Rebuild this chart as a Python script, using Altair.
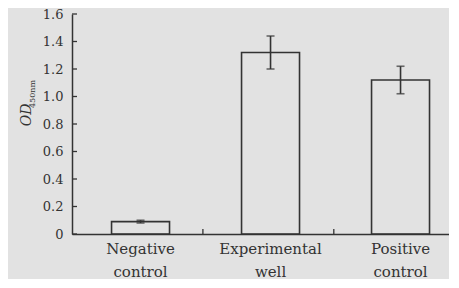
import altair as alt
import pandas as pd

categories = ["Negative|control", "Experimental|well", "Positive|control"]
means = [0.09, 1.32, 1.12]
errors = [0.01, 0.12, 0.10]
y_ticks = [0, 0.2, 0.4, 0.6, 0.8, 1.0, 1.2, 1.4, 1.6]
boundaries = [1, 2]

df = pd.DataFrame({"cat": categories, "mean": means, "err": errors})
df["lo"] = df["mean"] - df["err"]
df["hi"] = df["mean"] + df["err"]

W, H = 377, 220
ink = "#333333"
font = "DejaVu Serif"

xaxis = alt.Axis(title=None, labelAngle=0, labelExpr="split(datum.value, '|')",
                 tickSize=0, labelPadding=7, labelFont=font, labelFontSize=15,
                 labelColor=ink, labelLineHeight=23, domainColor=ink, domainWidth=1.5)
xenc = alt.X("cat:N", sort=categories,
             scale=alt.Scale(paddingInner=0.554, paddingOuter=0.227, align=0.67),
             axis=xaxis)
yscale = alt.Scale(domain=[0, 1.6], nice=False, zero=True)
yaxis = alt.Axis(title=None, values=y_ticks,
                 labelExpr="datum.value == 0 ? '0' : format(datum.value, '.1f')",
                 tickSize=0, labelPadding=9, labelFont=font, labelFontSize=13,
                 labelColor=ink, domainColor=ink, domainWidth=1.5, grid=False,
                 minExtent=59, maxExtent=59)

bars = alt.Chart(df).mark_bar(fill="transparent", stroke=ink, strokeWidth=1.6).encode(
    x=xenc, y=alt.Y("mean:Q", scale=yscale, axis=yaxis)
)
err = alt.Chart(df).mark_rule(color=ink, strokeWidth=1.6).encode(
    x=xenc, y=alt.Y("lo:Q", scale=yscale, axis=yaxis), y2="hi:Q"
)
cap_hi = alt.Chart(df).mark_tick(orient="horizontal", size=8, thickness=1.6, color=ink).encode(
    x=xenc, y=alt.Y("hi:Q", scale=yscale, axis=yaxis)
)
cap_lo = alt.Chart(df).mark_tick(orient="horizontal", size=8, thickness=1.6, color=ink).encode(
    x=xenc, y=alt.Y("lo:Q", scale=yscale, axis=yaxis)
)
yt = alt.Chart(pd.DataFrame({"v": y_ticks})).mark_rule(color=ink, strokeWidth=1.3).encode(
    y=alt.Y("v:Q", scale=yscale, axis=yaxis), x=alt.value(0), x2=alt.value(5)
)
t_od = alt.Chart(pd.DataFrame({"t": ["OD"]})).mark_text(
    font=font, fontStyle="italic", fontSize=14, angle=270, color=ink
).encode(text="t:N", x=alt.value(-45), y=alt.value(101))
t_sub = alt.Chart(pd.DataFrame({"t": ["450nm"]})).mark_text(
    font=font, fontSize=8, angle=270, color=ink
).encode(text="t:N", x=alt.value(-39), y=alt.value(80))

inner = alt.layer(bars, err, cap_hi, cap_lo, yt, t_od, t_sub)

bt = alt.Chart(pd.DataFrame({"b": boundaries})).mark_rule(color=ink, strokeWidth=1.3).encode(
    x=alt.X("b:Q", scale=alt.Scale(domain=[0, 2.88], nice=False), axis=None),
    y=alt.value(H - 5), y2=alt.value(H)
)

chart = alt.layer(inner, bt).resolve_scale(x="independent").properties(
    width=W, height=H, background="#e2e2e2",
    padding={"left": 5, "top": 0, "right": 0, "bottom": 0}
).configure_view(stroke=None)

chart.save("out.html", embed_options={"renderer": "svg", "actions": False})
